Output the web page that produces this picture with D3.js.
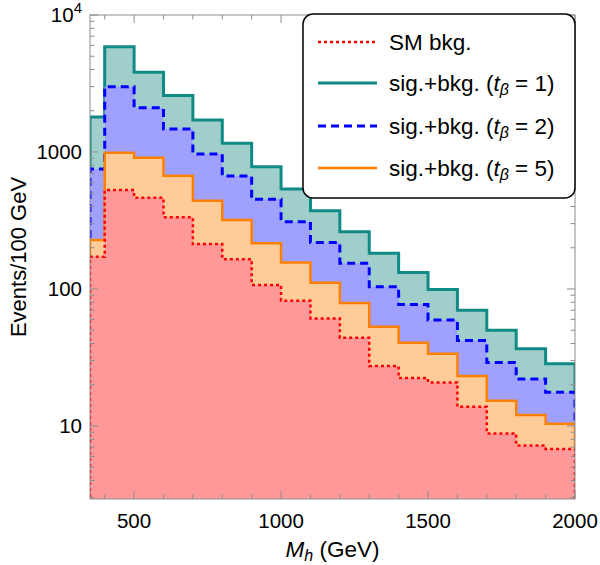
<!DOCTYPE html>
<html>
<head>
<meta charset="utf-8">
<script src="https://cdn.jsdelivr.net/npm/d3@7"></script>
<style>
  body { margin: 0; background: #fff; }
  text { font-family: "Liberation Sans", Arial, sans-serif; }
</style>
</head>
<body>
<div id="chart"></div>
<script>
// Histogram bin edges (GeV), first bin clipped at 350
const binEdges = [350, 400, 500, 600, 700, 800, 900, 1000, 1100, 1200, 1300, 1400, 1500, 1600, 1700, 1800, 1900, 2000];

// Events per 100 GeV in each bin
const smBkg = [172, 528, 464, 334, 213, 165, 107, 82, 61, 44, 27.4, 22.4, 20.8, 13.8, 8.8, 7.2, 6.8];
const sigBkgTb1 = [1800, 5870, 3820, 2580, 1710, 1157, 781, 537, 373, 262, 182, 132, 99, 70, 50, 36.6, 28.5];
const sigBkgTb2 = [752, 2997, 2105, 1472, 967, 668, 451, 310, 218, 154, 104, 77, 59.4, 42.1, 29, 22, 17.6];
const sigBkgTb5 = [228, 988, 908, 672, 441, 319, 216, 156, 111, 79, 53, 40.5, 33.7, 23.2, 15.3, 12.0, 10.4];

// Tick values
const xMajorTicks = [500, 1000, 1500, 2000];
const xMinorTicks = [400, 600, 700, 800, 900, 1100, 1200, 1300, 1400, 1600, 1700, 1800, 1900];
const yMajorTicks = [10, 100, 1000, 10000];

const width = 600;
const height = 565;
const margin = {top: 15, right: 25, bottom: 66, left: 90};

const svg = d3.select("#chart")
    .append("svg")
    .attr("width", width)
    .attr("height", height);

const x = d3.scaleLinear()
    .domain([350, 2000])
    .range([margin.left, width - margin.right]);

const y = d3.scaleLog()
    .domain([2.93, 10000])
    .range([height - margin.bottom, margin.top]);

svg.append("clipPath")
    .attr("id", "plot-clip")
    .append("rect")
    .attr("x", margin.left)
    .attr("y", margin.top)
    .attr("width", width - margin.left - margin.right)
    .attr("height", height - margin.top - margin.bottom);

// Series drawn from back to front
const series = [
    {values: sigBkgTb1, fill: "#a0cfcb", stroke: "#108a84", dash: null, sw: 3},
    {values: sigBkgTb2, fill: "#a0a0ff", stroke: "#0000ff", dash: "8,5", sw: 3},
    {values: sigBkgTb5, fill: "#ffcc99", stroke: "#ff8000", dash: null, sw: 2.5},
    {values: smBkg, fill: "#ff9999", stroke: "#ff0000", dash: "3,3", sw: 2.5}
];

// build step outline points for a histogram
function stepPoints(vals) {
    const pts = [[binEdges[0], 1]];
    vals.forEach((v, i) => {
        pts.push([binEdges[i], v]);
        pts.push([binEdges[i + 1], v]);
    });
    pts.push([binEdges[binEdges.length - 1], 1]);
    return pts;
}

const line = d3.line()
    .x(d => x(d[0]))
    .y(d => y(Math.max(d[1], 1)));

const plot = svg.append("g").attr("clip-path", "url(#plot-clip)");

series.forEach(s => {
    const pts = stepPoints(s.values);
    plot.append("path")
        .attr("d", line(pts) + "Z")
        .attr("fill", s.fill)
        .attr("stroke", "none");
    plot.append("path")
        .attr("d", line(pts))
        .attr("fill", "none")
        .attr("stroke", s.stroke)
        .attr("stroke-width", s.sw)
        .attr("stroke-dasharray", s.dash);
});

// Frame
const x0 = margin.left, x1 = width - margin.right;
const y0 = height - margin.bottom, y1 = margin.top;
const frameColor = "#8c8c8c";

svg.append("rect")
    .attr("x", x0).attr("y", y1)
    .attr("width", x1 - x0).attr("height", y0 - y1)
    .attr("fill", "none")
    .attr("stroke", frameColor)
    .attr("stroke-width", 1);

const ticks = svg.append("g").attr("stroke", frameColor).attr("stroke-width", 1);

// x ticks, bottom and top, pointing in
xMajorTicks.concat(xMinorTicks).forEach(t => {
    const len = xMajorTicks.includes(t) ? 8 : 4.5;
    ticks.append("line").attr("x1", x(t)).attr("x2", x(t)).attr("y1", y0).attr("y2", y0 - len);
    ticks.append("line").attr("x1", x(t)).attr("x2", x(t)).attr("y1", y1).attr("y2", y1 + len);
});

// y ticks, left and right
const yMinor = [];
[1, 10, 100, 1000].forEach(d => {
    for (let k = 2; k <= 9; k++) {
        const v = d * k;
        if (v >= 2.93 && v < 10000) yMinor.push(v);
    }
});
yMajorTicks.concat(yMinor).forEach(t => {
    const len = yMajorTicks.includes(t) ? 8 : 4.5;
    ticks.append("line").attr("x1", x0).attr("x2", x0 + len).attr("y1", y(t)).attr("y2", y(t));
    ticks.append("line").attr("x1", x1).attr("x2", x1 - len).attr("y1", y(t)).attr("y2", y(t));
});

// Tick labels
svg.append("g")
    .selectAll("text")
    .data(xMajorTicks)
    .join("text")
    .attr("x", d => x(d))
    .attr("y", 528)
    .attr("text-anchor", "middle")
    .attr("font-size", 20.5)
    .text(d => d);

yMajorTicks.forEach(t => {
    const lab = svg.append("text")
        .attr("x", 82)
        .attr("y", y(t) + 7)
        .attr("text-anchor", "end")
        .attr("font-size", 20.5);
    if (t === 10000) {
        lab.append("tspan").text("10");
        lab.append("tspan").attr("font-size", 15).attr("dy", -9).text("4");
    } else {
        lab.text(t);
    }
});

// Axis titles
const xt = svg.append("text")
    .attr("x", (x0 + x1) / 2)
    .attr("y", 557)
    .attr("text-anchor", "middle")
    .attr("font-size", 22.5);
xt.append("tspan").attr("font-style", "italic").text("M");
xt.append("tspan").attr("font-style", "italic").attr("font-size", 16).attr("dy", 4).text("h");
xt.append("tspan").attr("dy", -4).text(" (GeV)");

svg.append("text")
    .attr("transform", `translate(26,${(y0 + y1) / 2}) rotate(-90)`)
    .attr("text-anchor", "middle")
    .attr("font-size", 22)
    .text("Events/100 GeV");

// Legend
const legend = svg.append("g");
legend.append("rect")
    .attr("x", 303).attr("y", 14)
    .attr("width", 272).attr("height", 184)
    .attr("rx", 10)
    .attr("fill", "#fff")
    .attr("stroke", "#000")
    .attr("stroke-width", 1.5);

const legendItems = [
    {s: series[3], label: "SM bkg.", tb: null},
    {s: series[0], label: "sig.+bkg. (", tb: "1"},
    {s: series[1], label: "sig.+bkg. (", tb: "2"},
    {s: series[2], label: "sig.+bkg. (", tb: "5"}
];
const rowY = [42, 83, 126, 168];

legendItems.forEach((it, i) => {
    legend.append("line")
        .attr("x1", 318).attr("x2", 377)
        .attr("y1", rowY[i]).attr("y2", rowY[i])
        .attr("stroke", it.s.stroke)
        .attr("stroke-width", it.s.sw)
        .attr("stroke-dasharray", it.s.dash);
    const t = legend.append("text")
        .attr("x", 389)
        .attr("y", rowY[i] + 8)
        .attr("font-size", 22.5);
    t.append("tspan").text(it.label);
    if (it.tb) {
        t.append("tspan").attr("font-style", "italic").text("t");
        t.append("tspan").attr("font-style", "italic").attr("font-size", 16).attr("dy", 4).text("β");
        t.append("tspan").attr("dy", -4).text(" = " + it.tb + ")");
    }
});
</script>
</body>
</html>
